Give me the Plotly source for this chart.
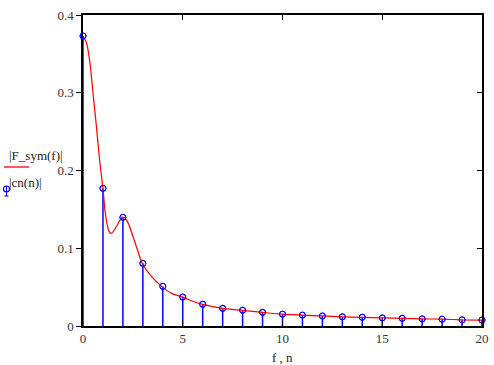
import plotly.graph_objects as go

# Continuous spectrum |F_sym(f)|
f_curve = [0, 0.18, 0.35, 0.52, 0.69, 0.85, 1.0, 1.1, 1.2, 1.3, 1.4, 1.5, 1.7, 1.85, 1.97, 2.1, 2.27, 2.6, 2.97,
           3.44, 3.94, 4.44, 5, 5.5, 6, 7, 8, 9, 10, 11, 12, 13, 14, 15, 16, 17, 18, 19, 20]
F_curve = [0.373, 0.364, 0.338, 0.295, 0.252, 0.209, 0.177, 0.149, 0.132, 0.122, 0.119, 0.121, 0.129, 0.136, 0.140,
           0.139, 0.132, 0.108, 0.0806,
           0.0634, 0.051, 0.042, 0.0371, 0.0318, 0.0279, 0.0227, 0.0202, 0.0176, 0.0152, 0.014, 0.0129, 0.0118, 0.0112,
           0.0104, 0.0099, 0.0092, 0.0088, 0.0079, 0.0076]

# Discrete coefficients |cn(n)|
n_vals = list(range(21))
cn_vals = [0.373, 0.177, 0.1398, 0.0806, 0.051, 0.0371, 0.0279, 0.0227, 0.0202, 0.0176, 0.0152,
           0.014, 0.0129, 0.0118, 0.0112, 0.0104, 0.0099, 0.0092, 0.0088, 0.0079, 0.0076]

x_ticks = [0, 5, 10, 15, 20]
y_ticks = [0, 0.1, 0.2, 0.3, 0.4]
y_tick_text = ["0", "0.1", "0.2", "0.3", "0.4"]

SERIF = "Liberation Serif, Times New Roman, DejaVu Serif, serif"

W, H = 494, 365
ML, MR, MT, MB = 83, 12, 15, 39
PW, PH = W - ML - MR, H - MT - MB


def px(x):
    return (x - ML) / PW


def py(y):
    return (H - MB - y) / PH


fig = go.Figure()

# stems
fig.add_trace(go.Scatter(
    x=n_vals, y=cn_vals, mode="markers",
    marker=dict(symbol="circle-open", size=6, color="#0000ff", line=dict(width=1, color="#0000ff")),
    error_y=dict(type="data", symmetric=False, array=[0] * len(cn_vals), arrayminus=cn_vals,
                 width=0, thickness=1.5, color="#0000ff"),
    showlegend=False, cliponaxis=False,
))

fig.add_trace(go.Scatter(
    x=f_curve, y=F_curve, mode="lines",
    line=dict(color="#ff0000", width=1.2, shape="spline", smoothing=0.6),
    showlegend=False,
))

# markers on top of curve
fig.add_trace(go.Scatter(
    x=n_vals, y=cn_vals, mode="markers",
    marker=dict(symbol="circle-open", size=6, color="#0000ff", line=dict(width=1, color="#0000ff")),
    showlegend=False, cliponaxis=False,
))

tick_font = dict(family=SERIF, size=13, color="#333333")

fig.update_layout(
    width=W, height=H,
    margin=dict(l=ML, r=MR, t=MT, b=MB, autoexpand=False),
    paper_bgcolor="white", plot_bgcolor="white",
    xaxis=dict(range=[0, 20], tickvals=x_ticks, ticks="inside", ticklen=5, tickcolor="black",
               showline=True, linecolor="black", linewidth=1.5, showgrid=False, zeroline=False,
               tickfont=tick_font, automargin=False),
    yaxis=dict(range=[0, 0.4], tickvals=y_ticks, ticktext=y_tick_text, ticks="outside", ticklen=5,
               tickcolor="black", showline=True, linecolor="black", linewidth=1.5, showgrid=False,
               zeroline=False, tickfont=tick_font, automargin=False, layer="below traces"),
    xaxis2=dict(range=[0, 20], overlaying="x", side="top", tickvals=x_ticks, ticks="inside", ticklen=5,
                tickcolor="black", showline=True, linecolor="black", linewidth=1.5, showticklabels=False,
                showgrid=False, zeroline=False, automargin=False),
    yaxis2=dict(range=[0, 0.4], overlaying="y", side="right", tickvals=y_ticks, ticks="inside", ticklen=5,
                tickcolor="black", showline=True, linecolor="black", linewidth=1.5, showticklabels=False,
                showgrid=False, zeroline=False, automargin=False),
)

# dummy trace to activate secondary axes
fig.add_trace(go.Scatter(x=[None], y=[None], xaxis="x2", yaxis="y2", showlegend=False, hoverinfo="skip"))

label_font = dict(family=SERIF, size=13, color="#222")
fig.add_annotation(text="|F_sym(f)|", xref="paper", yref="paper", x=px(7), y=py(155),
                   showarrow=False, font=label_font, xanchor="left", yanchor="middle")
fig.add_annotation(text="|cn(n)|", xref="paper", yref="paper", x=px(7), y=py(182.5),
                   showarrow=False, font=label_font, xanchor="left", yanchor="middle")
fig.add_annotation(text="f , n", xref="paper", yref="paper", x=px(282), y=py(357),
                   showarrow=False, font=label_font, xanchor="center", yanchor="middle")
# legend glyphs
fig.add_shape(type="line", xref="paper", yref="paper", x0=px(4), x1=px(29), y0=py(167), y1=py(167),
              line=dict(color="#ff0000", width=1.3))
fig.add_shape(type="circle", xref="paper", yref="paper", x0=px(3.5), x1=px(9.5), y0=py(192), y1=py(186),
              line=dict(color="#0000ff", width=1.1))
fig.add_shape(type="line", xref="paper", yref="paper", x0=px(6.5), x1=px(6.5), y0=py(196), y1=py(186),
              line=dict(color="#0000ff", width=1.1))
fig.add_shape(type="line", xref="paper", yref="paper", x0=px(4.5), x1=px(8.5), y0=py(196), y1=py(196),
              line=dict(color="#0000ff", width=1.1))

fig.write_html("out.html", config={"displayModeBar": False},
               post_script="document.body.style.margin='0';")
